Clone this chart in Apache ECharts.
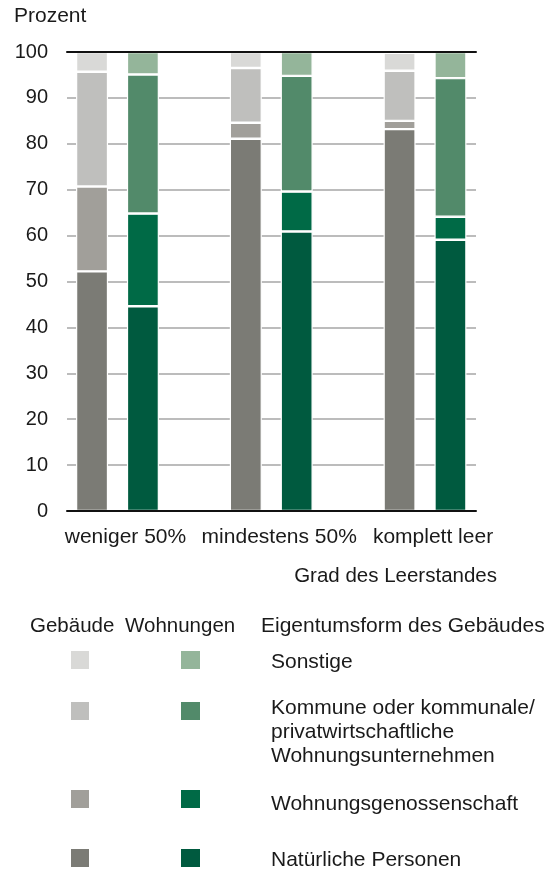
<!DOCTYPE html>
<html>
<head>
<meta charset="utf-8">
<script src="https://cdn.jsdelivr.net/npm/echarts@6/dist/echarts.min.js"></script>
<style>html,body{margin:0;padding:0;background:#fff}#c{width:550px;height:872px}</style>
</head>
<body>
<div id="c"></div>
<script>
const categories = ['weniger 50%', 'mindestens 50%', 'komplett leer'];
const ownerTypes = ['Natürliche Personen', 'Wohnungsgenossenschaft', 'Kommune oder kommunale/\nprivatwirtschaftliche\nWohnungsunternehmen', 'Sonstige'];
// Gebäude (buildings)
const gebNatuerlich = [52.2, 81.1, 83.2];
const gebGenossenschaft = [18.5, 3.5, 1.8];
const gebKommune = [25.0, 11.9, 10.9];
const gebSonstige = [4.3, 3.5, 3.9];
// Wohnungen (dwellings)
const wohNatuerlich = [44.6, 60.9, 59.1];
const wohGenossenschaft = [20.2, 8.7, 5.0];
const wohKommune = [30.3, 25.2, 30.2];
const wohSonstige = [4.9, 5.2, 5.7];
const yTicks = [0, 100, 10];

const gebColors = ['#7b7b75', '#a19f9a', '#bfbfbd', '#d9d9d7'];
const wohColors = ['#005a3f', '#006a46', '#528a6a', '#94b59a'];
const FONT = '"Liberation Sans", Arial, sans-serif';
const TXT = '#1a1a1a';

const chart = echarts.init(document.getElementById('c'), null, {renderer: 'canvas'});

const gebData = [gebNatuerlich, gebGenossenschaft, gebKommune, gebSonstige];
const wohData = [wohNatuerlich, wohGenossenschaft, wohKommune, wohSonstige];
const series = [];
gebData.forEach((d, i) => series.push({
  name: 'Gebäude ' + ownerTypes[i], type: 'bar', stack: 'geb', xAxisIndex: 2, yAxisIndex: 1,
  data: d, barWidth: 32, barGap: '59%',
  itemStyle: {color: gebColors[i], borderColor: '#fff', borderWidth: 1.2},
  emphasis: {disabled: true}
}));
wohData.forEach((d, i) => series.push({
  name: 'Wohnungen ' + ownerTypes[i], type: 'bar', stack: 'woh', xAxisIndex: 2, yAxisIndex: 1,
  data: d, barWidth: 32, barGap: '59%',
  itemStyle: {color: wohColors[i], borderColor: '#fff', borderWidth: 1.2},
  emphasis: {disabled: true}
}));

// legend graphics
const LF = '20.5px ' + FONT;
const graphic = [];
const headY = 627;
graphic.push({type: 'text', left: 30, top: headY - 11, style: {text: 'Gebäude', font: LF, fill: TXT}});
graphic.push({type: 'text', left: 125, top: headY - 11, style: {text: 'Wohnungen', font: LF, fill: TXT}});
graphic.push({type: 'text', left: 261, top: headY - 11, style: {text: 'Eigentumsform des Gebäudes', font: '21px ' + FONT, fill: TXT}});
const rowSquareY = [849, 790, 702, 651];
const rowTextY = [848, 792, 696, 650];
for (let i = 0; i < 4; i++) {
  graphic.push({type: 'rect', shape: {x: 71, y: rowSquareY[i], width: 18, height: 18}, style: {fill: gebColors[i]}});
  graphic.push({type: 'rect', shape: {x: 181, y: rowSquareY[i], width: 19, height: 18}, style: {fill: wohColors[i]}});
  graphic.push({type: 'text', left: 271, top: rowTextY[i], style: {text: ownerTypes[i], font: '21px ' + FONT, fill: TXT, lineHeight: 24}});
}
graphic.push({type: 'text', left: 14, top: 6, style: {text: 'Prozent', font: '21px ' + FONT, fill: TXT}});
graphic.push({type: 'text', right: 53, top: 566, style: {text: 'Grad des Leerstandes', font: LF, fill: TXT}});

const option = {
  animation: false,
  backgroundColor: '#fff',
  grid: [
    {left: 67, right: 74, top: 52, bottom: 361},
    {left: 40.6, right: 48.1, top: 52, bottom: 361}
  ],
  xAxis: [
    {type: 'category', gridIndex: 0, data: [''], position: 'bottom', z: 5,
     axisLine: {show: true, lineStyle: {color: '#111', width: 2}}, axisTick: {show: false}, axisLabel: {show: false}},
    {type: 'category', gridIndex: 0, data: [''], position: 'top', z: 5,
     axisLine: {show: true, lineStyle: {color: '#111', width: 2}}, axisTick: {show: false}, axisLabel: {show: false}},
    {type: 'category', gridIndex: 1, data: categories, position: 'bottom',
     axisLine: {show: false}, axisTick: {show: false},
     axisLabel: {interval: 0, fontSize: 21, fontFamily: FONT, color: TXT, margin: 16, padding: [0, 0, 0, 16]}}
  ],
  yAxis: [
    {type: 'value', gridIndex: 0, min: yTicks[0], max: yTicks[1], interval: yTicks[2],
     axisLine: {show: false}, axisTick: {show: false},
     axisLabel: {fontSize: 20, fontFamily: FONT, color: TXT, margin: 19},
     splitLine: {lineStyle: {color: '#a6a6a6', width: 1.5}}},
    {type: 'value', gridIndex: 1, min: yTicks[0], max: yTicks[1], show: false, splitLine: {show: false}}
  ],
  series: series,
  graphic: graphic
};
chart.setOption(option);
</script>
</body>
</html>
